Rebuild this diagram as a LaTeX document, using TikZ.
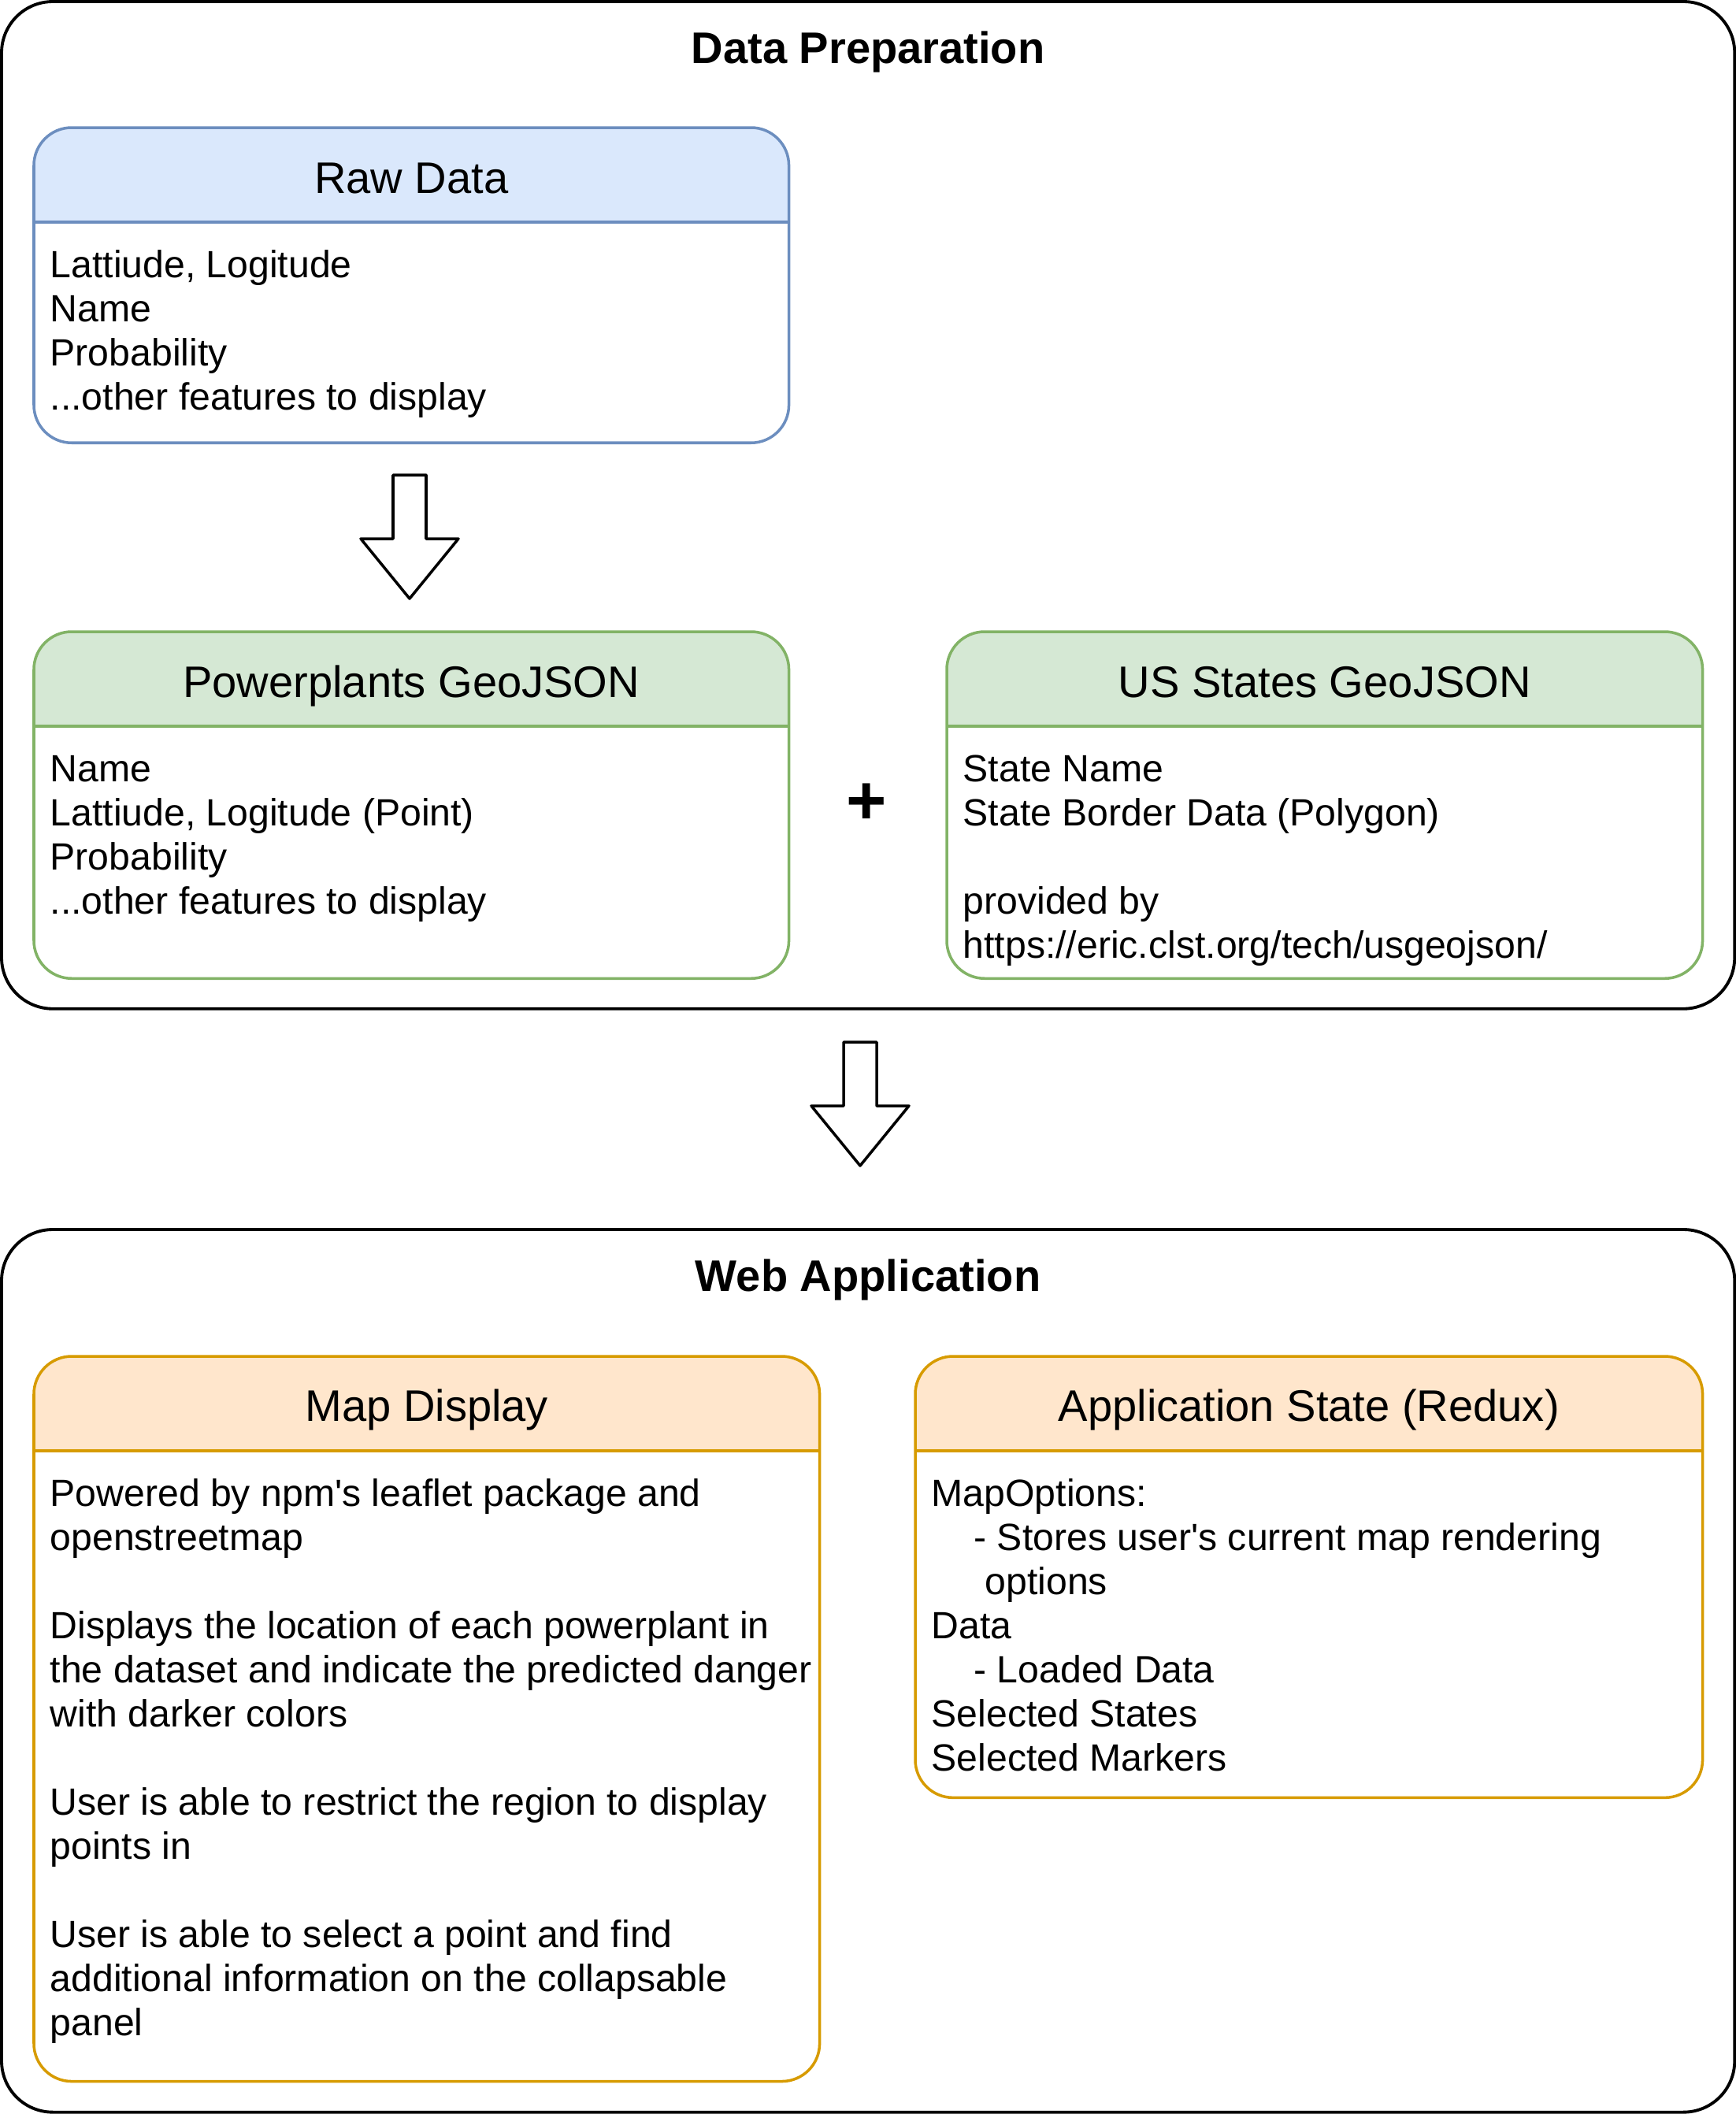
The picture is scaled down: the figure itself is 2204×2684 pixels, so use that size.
\documentclass[tikz,border=0pt]{standalone}
\usepackage{fontspec}
\setmainfont{Liberation Sans}
\usepackage{xcolor}
\usepackage{tikz}
\usetikzlibrary{positioning}
\definecolor{blueFill}{HTML}{DAE8FC}
\definecolor{blueLine}{HTML}{6C8EBF}
\definecolor{greenFill}{HTML}{D5E8D4}
\definecolor{greenLine}{HTML}{82B366}
\definecolor{orangeFill}{HTML}{FFE6CC}
\definecolor{orangeLine}{HTML}{D79B00}
\newcommand{\bodyfont}{\fontsize{13.7pt}{15.93pt}\selectfont}
\newcommand{\headfont}{\fontsize{15.95pt}{19.14pt}\selectfont}
\newcommand{\titlefont}{\fontsize{15.95pt}{19.14pt}\selectfont\bfseries}
\newcommand{\plusfont}{\fontsize{25pt}{30pt}\selectfont\bfseries}
\tikzset{
group box/.style = { rectangle, draw = black, fill = white, line width = 1.1pt, rounded corners = 0.65cm, inner sep = 0pt, outer sep = 0pt, anchor = north west },
group title/.style = { font = \titlefont, anchor = base, inner sep = 0pt },
lane title/.style = { font = \headfont, anchor = base, inner sep = 0pt },
lane text/.style = { font = \bodyfont, align = left, anchor = north west, inner sep = 0pt },
}
\tikzset{
lane box/.style args = {#1, #2}{
        rectangle, draw = #2, fill = white, line width = 1pt, rounded corners = 0.48cm, inner sep = 0pt, outer sep = 0pt, anchor = north west,
        path picture = {
        \fill[#1, sharp corners] (path picture bounding box.north west) rectangle ([yshift = -1.2cm] path picture bounding box.north east);
        \draw[#2, line width = 1pt, sharp corners] ([yshift = -1.2cm] path picture bounding box.north west) -- ([yshift = -1.2cm] path picture bounding box.north east);
        }
    },
pics/block arrow/.style = {
        code = {
        \path[draw = black, fill = white, line width = 1pt, line join = round] (-21, 0) -- (21, 0) -- (21, 81) -- (62, 81) -- (0, 157) -- (-62, 81) -- (-21, 81) -- cycle;
        }
    }
}

\begin{document}
\begin{tikzpicture}[x = 0.01cm, y = -0.01cm]
    \useasboundingbox (0, 0) rectangle (2204, 2684);
    \node[group box, minimum width = 21.99cm, minimum height = 12.78cm] (prep) at (2, 2) {};
    \node[group title] (preptitle) at ([yshift = -0.78cm] prep.north) {Data Preparation};
    \node[lane box = {blueFill, blueLine}, minimum width = 9.58cm, minimum height = 4.00cm] (rawdata) at (43, 162) {};
    \node[lane title] (rawtitle) at ([yshift = -0.83cm] rawdata.north) {Raw Data};
    \node[lane text] (rawtext) at ([xshift = 0.2cm, yshift = -1.505cm] rawdata.north west) {\strut Lattiude, Logitude\\Name\\Probability\\...other features to display};
    \draw (520, 603) pic{block arrow};
    \node[lane box = {greenFill, greenLine}, minimum width = 9.58cm, minimum height = 4.40cm] (plants) at (43, 802) {};
    \node[lane title] (plantstitle) at ([yshift = -0.83cm] plants.north) {Powerplants GeoJSON};
    \node[lane text] (plantstext) at ([xshift = 0.2cm, yshift = -1.505cm] plants.north west) {\strut Name\\Lattiude, Logitude (Point)\\Probability\\...other features to display};
    \node[font = \plusfont, inner sep = 0pt] (plus) at (1100, 1021) {+};
    \node[lane box = {greenFill, greenLine}, minimum width = 9.59cm, minimum height = 4.40cm] (states) at (1202, 802) {};
    \node[lane title] (statestitle) at ([yshift = -0.83cm] states.north) {US States GeoJSON};
    \node[lane text] (statestext) at ([xshift = 0.2cm, yshift = -1.505cm] states.north west) {\strut State Name\\State Border Data (Polygon)\\ \\provided by\\https://eric.clst.org/tech/usgeojson/};
    \draw (1092, 1323) pic{block arrow};
    \node[group box, minimum width = 21.99cm, minimum height = 11.20cm] (web) at (2, 1561) {};
    \node[group title] (webtitle) at ([yshift = -0.78cm] web.north) {Web Application};
    \node[lane box = {orangeFill, orangeLine}, minimum width = 9.97cm, minimum height = 9.20cm] (mapdisplay) at (43, 1722) {};
    \node[lane title] (maptitle) at ([yshift = -0.82cm] mapdisplay.north) {Map Display};
    \node[lane text] (maptext) at ([xshift = 0.2cm, yshift = -1.505cm] mapdisplay.north west) {\strut Powered by npm\textquotesingle s leaflet package and\\openstreetmap\\ \\Displays the location of each powerplant in\\the dataset and indicate the predicted danger\\with darker colors\\ \\User is able to restrict the region to display\\points in\\ \\User is able to select a point and find\\additional information on the collapsable\\panel};
    \node[lane box = {orangeFill, orangeLine}, minimum width = 9.99cm, minimum height = 5.60cm] (appstate) at (1162, 1722) {};
    \node[lane title] (apptitle) at ([yshift = -0.82cm] appstate.north) {Application State (Redux)};
    \node[lane text] (apptext) at ([xshift = 0.2cm, yshift = -1.505cm] appstate.north west) {\strut MapOptions:\\\hspace*{15.3pt}- Stores user\textquotesingle s current map rendering\\\hspace*{19.3pt}options\\Data\\\hspace*{15.3pt}- Loaded Data\\Selected States\\Selected Markers};
\end{tikzpicture}
\end{document}
